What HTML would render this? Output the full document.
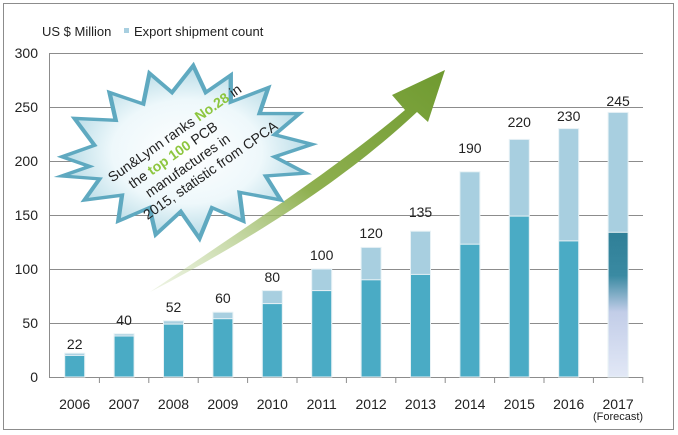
<!DOCTYPE html><html><head><style>body{margin:0;background:#fff}svg{display:block;font-family:"Liberation Sans",Arial,sans-serif}</style></head><body>
<svg width="678" height="435" viewBox="0 0 678 435">
<defs>
<linearGradient id="f" x1="0" y1="0" x2="0" y2="1"><stop offset="0" stop-color="#2f7f97"/><stop offset="0.3" stop-color="#3a8aa2"/><stop offset="0.55" stop-color="#c2cde8"/><stop offset="1" stop-color="#e2e8f6"/></linearGradient>
<linearGradient id="ar" x1="0" y1="1" x2="1" y2="0"><stop offset="0" stop-color="#c8dca8" stop-opacity="0.3"/><stop offset="0.5" stop-color="#8fb050"/><stop offset="1" stop-color="#6f9a30"/></linearGradient>
<radialGradient id="st"><stop offset="0" stop-color="#fff"/><stop offset="0.6" stop-color="#eef8fb"/><stop offset="1" stop-color="#b7dbe6"/></radialGradient>
</defs>
<rect x="3.5" y="3.5" width="670" height="426" fill="#fff" stroke="#8c8c8c"/>
<g stroke="#8c8c8c" stroke-width="1">
<line x1="50" y1="53.5" x2="643" y2="53.5"/><line x1="50" y1="107.5" x2="643" y2="107.5"/><line x1="50" y1="161.5" x2="643" y2="161.5"/><line x1="50" y1="215.5" x2="643" y2="215.5"/><line x1="50" y1="269.5" x2="643" y2="269.5"/><line x1="50" y1="323.5" x2="643" y2="323.5"/><line x1="50" y1="377.5" x2="643" y2="377.5"/>
<line x1="49.5" y1="53" x2="49.5" y2="378"/>
<line x1="99.4" y1="377" x2="99.4" y2="383"/><line x1="148.8" y1="377" x2="148.8" y2="383"/><line x1="198.2" y1="377" x2="198.2" y2="383"/><line x1="247.6" y1="377" x2="247.6" y2="383"/><line x1="297" y1="377" x2="297" y2="383"/><line x1="346.4" y1="377" x2="346.4" y2="383"/><line x1="395.8" y1="377" x2="395.8" y2="383"/><line x1="445.2" y1="377" x2="445.2" y2="383"/><line x1="494.6" y1="377" x2="494.6" y2="383"/><line x1="544" y1="377" x2="544" y2="383"/><line x1="593.4" y1="377" x2="593.4" y2="383"/><line x1="642.8" y1="377" x2="642.8" y2="383"/>
</g>
<g font-size="14" fill="#222" text-anchor="end">
<text x="38" y="58">300</text><text x="38" y="112">250</text><text x="38" y="166">200</text><text x="38" y="220">150</text><text x="38" y="274">100</text><text x="38" y="328">50</text><text x="38" y="382">0</text></g>
<text x="42" y="36" font-size="13" fill="#222">US $ Million</text>
<rect x="124" y="28" width="5" height="5" fill="#a8cfe0"/>
<text x="134" y="36" font-size="13" fill="#222">Export shipment count</text>
<g stroke="#e8f2f6" stroke-width="1">
<rect x="64.7" y="353.2" width="20" height="23.8" fill="#a8cfe0"/><rect x="64.7" y="355.4" width="20" height="21.6" fill="#4aabc5"/>
<rect x="114.1" y="333.8" width="20" height="43.2" fill="#a8cfe0"/><rect x="114.1" y="336" width="20" height="41" fill="#4aabc5"/>
<rect x="163.5" y="320.8" width="20" height="56.2" fill="#a8cfe0"/><rect x="163.5" y="324.1" width="20" height="52.9" fill="#4aabc5"/>
<rect x="212.9" y="312.2" width="20" height="64.8" fill="#a8cfe0"/><rect x="212.9" y="318.7" width="20" height="58.3" fill="#4aabc5"/>
<rect x="262.3" y="290.6" width="20" height="86.4" fill="#a8cfe0"/><rect x="262.3" y="303.6" width="20" height="73.4" fill="#4aabc5"/>
<rect x="311.7" y="269" width="20" height="108" fill="#a8cfe0"/><rect x="311.7" y="290.6" width="20" height="86.4" fill="#4aabc5"/>
<rect x="361.1" y="247.4" width="20" height="129.6" fill="#a8cfe0"/><rect x="361.1" y="279.8" width="20" height="97.2" fill="#4aabc5"/>
<rect x="410.5" y="231.2" width="20" height="145.8" fill="#a8cfe0"/><rect x="410.5" y="274.4" width="20" height="102.6" fill="#4aabc5"/>
<rect x="459.9" y="171.8" width="20" height="205.2" fill="#a8cfe0"/><rect x="459.9" y="244.2" width="20" height="132.8" fill="#4aabc5"/>
<rect x="509.3" y="139.4" width="20" height="237.6" fill="#a8cfe0"/><rect x="509.3" y="216.1" width="20" height="160.9" fill="#4aabc5"/>
<rect x="558.7" y="128.6" width="20" height="248.4" fill="#a8cfe0"/><rect x="558.7" y="240.9" width="20" height="136.1" fill="#4aabc5"/>
<rect x="608.1" y="112.4" width="20" height="264.6" fill="#a8cfe0"/><rect x="608.1" y="232.3" width="20" height="144.7" fill="url(#f)"/>
</g>
<g font-size="14" fill="#222" text-anchor="middle">
<text x="74.7" y="349">22</text><text x="124.1" y="325">40</text><text x="173.5" y="312">52</text><text x="222.9" y="303">60</text><text x="272.3" y="282">80</text><text x="321.7" y="260">100</text><text x="371.1" y="238">120</text><text x="420.5" y="217">135</text><text x="469.9" y="153">190</text><text x="519.3" y="127">220</text><text x="568.7" y="121">230</text><text x="618.1" y="106">245</text>
<text x="74.7" y="409">2006</text><text x="124.1" y="409">2007</text><text x="173.5" y="409">2008</text><text x="222.9" y="409">2009</text><text x="272.3" y="409">2010</text><text x="321.7" y="409">2011</text><text x="371.1" y="409">2012</text><text x="420.5" y="409">2013</text><text x="469.9" y="409">2014</text><text x="519.3" y="409">2015</text><text x="568.7" y="409">2016</text><text x="618.1" y="409">2017</text>
<text x="618" y="420" font-size="11">(Forecast)</text></g>
<path d="M150 292 C250 225 340 165 405 110 L392 95 L445 70 L428 122 L417 112 C350 175 260 235 150 292 Z" fill="url(#ar)"/>
<g transform="translate(187,152) scale(1.25,0.96) translate(-170,-150)">
<polygon points="70,155 96,143 80,115 113,117 108,88 135,100 140,68 158,88 175,60 185,88 205,70 205,98 235,83 228,110 260,110 240,132 270,142 240,155 265,172 233,175 245,200 212,192 215,222 190,208 180,240 165,212 145,236 140,208 115,222 118,195 88,200 100,178 70,175 92,165" fill="url(#st)" stroke="#5fa9c0" stroke-width="3.5"/>
</g>
<g transform="translate(190,155) rotate(-35)" font-size="14" fill="#222" text-anchor="middle">
<text x="0" y="-22">Sun&amp;Lynn ranks <tspan fill="#8dc63f" font-weight="bold">No.28</tspan> in</text>
<text x="-14" y="-5">the <tspan fill="#8dc63f" font-weight="bold">top 100</tspan> PCB</text>
<text x="-8" y="12">manufactures in</text>
<text x="8" y="29">2015, statistic from CPCA</text>
</g>
</svg></body></html>
